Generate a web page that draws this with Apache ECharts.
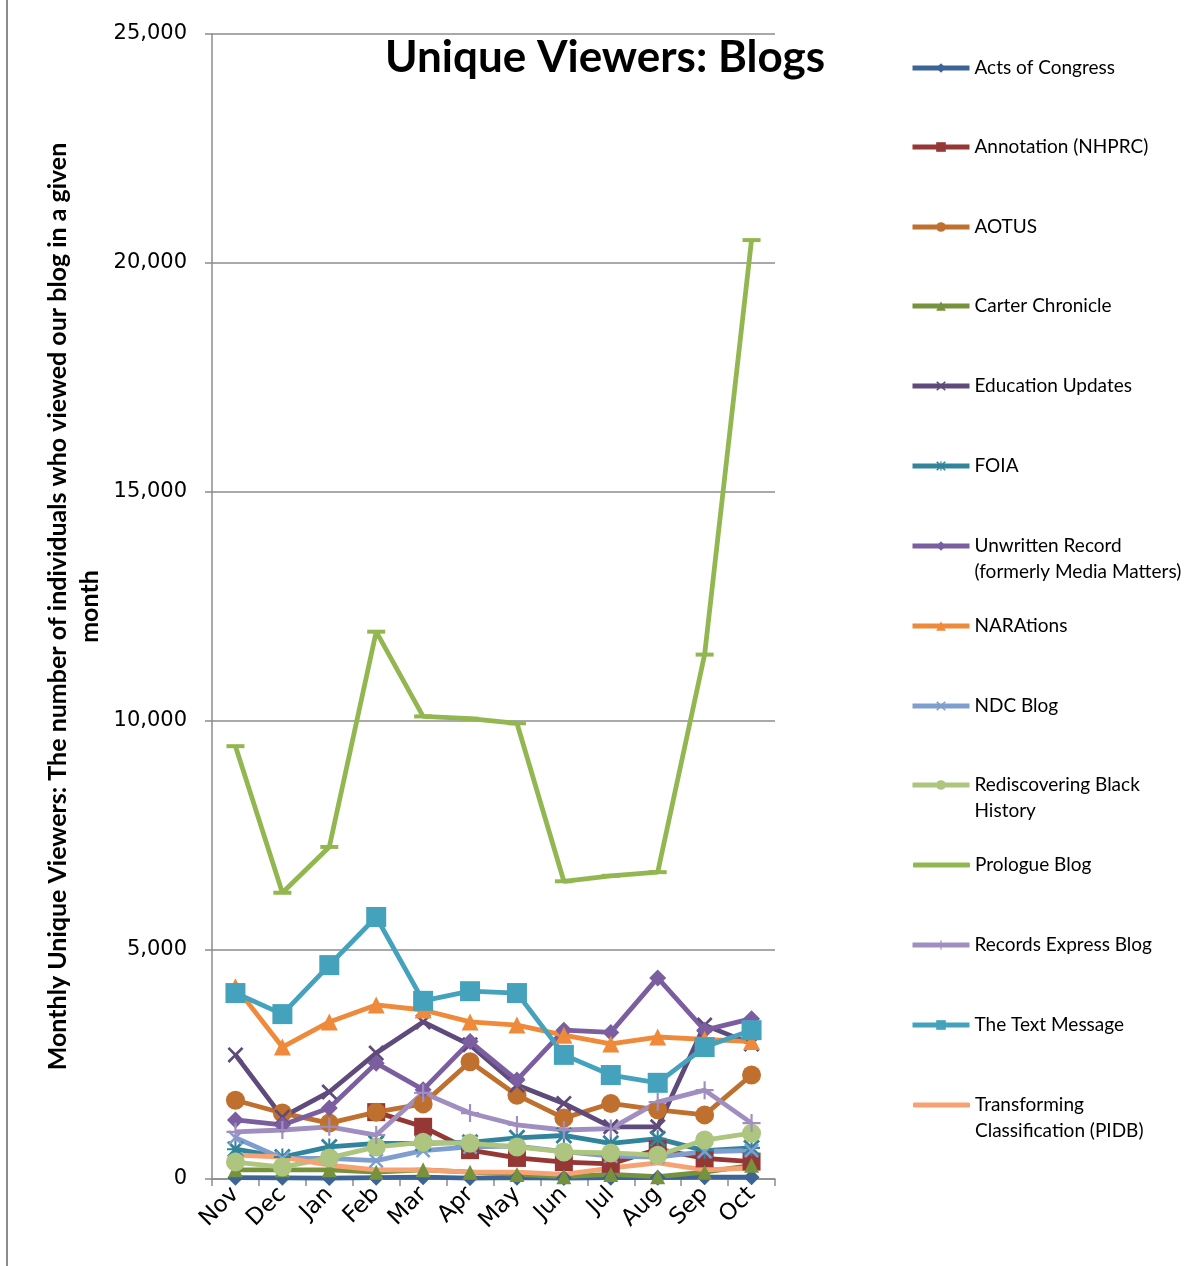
<!DOCTYPE html>
<html><head><meta charset="utf-8">
<script src="https://cdn.jsdelivr.net/npm/echarts@6/dist/echarts.min.js"></script>
<style>
html,body{margin:0;padding:0;background:#fff;}
#wrap{position:relative;width:1195px;height:1266px;}
#chart{position:absolute;left:0;top:0;width:1195px;height:1266px;}
#frame{position:absolute;left:6px;top:-2px;width:1200px;height:1270px;border-left:2px solid #8c8c8c;pointer-events:none;}
</style></head>
<body><div id="wrap"><div id="chart"></div><div id="frame"></div></div>
<script>
const months = ['Nov','Dec','Jan','Feb','Mar','Apr','May','Jun','Jul','Aug','Sep','Oct'];
const yTicks = [0,5000,10000,15000,20000,25000];

const actsOfCongress = [30,25,20,30,40,20,30,20,30,30,40,40];
const annotation = [null,null,null,1460,1140,630,460,370,330,650,450,380];
const aotus = [1720,1440,1220,1460,1640,2560,1830,1330,1650,1510,1400,2270];
const carterChronicle = [200,200,200,150,200,150,100,50,100,50,150,300];
const educationUpdates = [2710,1350,1900,2750,3430,2930,2050,1650,1140,1140,3360,2950];
const foia = [650,480,700,780,780,800,900,950,780,880,620,680];
const unwrittenRecord = [1290,1180,1550,2530,1950,3000,2160,3250,3200,4390,3250,3500];
const narations = [4200,2880,3430,3800,3690,3430,3360,3140,2950,3100,3050,3000];
const ndcBlog = [900,450,450,400,620,700,720,600,500,480,600,620];
const rediscovering = [370,260,460,700,800,780,700,590,570,520,850,1000];
const prologueBlog = [9450,6250,7250,11950,10100,10050,9950,6500,6620,6700,11450,20500];
const recordsExpress = [1030,1070,1140,960,1880,1440,1180,1070,1100,1680,1940,1220];
const textMessage = [4060,3600,4670,5720,3890,4100,4060,2710,2270,2100,2880,3250];
const transforming = [520,480,300,200,200,150,150,100,240,350,200,240];

const seriesNames = ['Acts of Congress','Annotation (NHPRC)','AOTUS','Carter Chronicle','Education Updates','FOIA','Unwritten Record\n(formerly Media Matters)','NARAtions','NDC Blog','Rediscovering Black\nHistory','Prologue Blog','Records Express Blog','The Text Message','Transforming\nClassification (PIDB)'];
const seriesData = [actsOfCongress,annotation,aotus,carterChronicle,educationUpdates,foia,unwrittenRecord,narations,ndcBlog,rediscovering,prologueBlog,recordsExpress,textMessage,transforming];
const colors = ['#3C6496','#953735','#C0702E','#76923C','#5F4A7C','#31849B','#7B5EA0','#EE8A3A','#7E9ECF','#ADC57E','#93B750','#A08EC0','#45A2BD','#F6A273'];

const X = 'path://M0,1.2 L1.2,0 L5,3.8 L8.8,0 L10,1.2 L6.2,5 L10,8.8 L8.8,10 L5,6.2 L1.2,10 L0,8.8 L3.8,5 Z';
const PLUS = 'path://M4.4,0 H5.6 V4.4 H10 V5.6 H5.6 V10 H4.4 V5.6 H0 V4.4 H4.4 Z';
const STAR = 'path://M0,1.2 L1.2,0 L5,3.8 L8.8,0 L10,1.2 L6.2,5 L10,8.8 L8.8,10 L5,6.2 L1.2,10 L0,8.8 L3.8,5 Z M4.4,0 H5.6 V10 H4.4 Z M0,4.4 H10 V5.6 H0 Z';
const DASH = 'path://M0,0 H10 V2 H0 Z';
const symbols = ['diamond','rect','circle','triangle',X,STAR,'diamond','triangle',X,'circle',DASH,PLUS,'rect','none'];
const sizes = [16,18,19,15,16,17,17,17,15,19,[18,4],18,20,0];
const plainLegend = [false,false,false,false,false,false,false,false,false,false,true,false,false,true];

const legendY = [68,147,227,306,386,466,546,626,706,785,865,945,1025,1105];

const chart = echarts.init(document.getElementById('chart'));
const fontMain = 'Lato, "Open Sans", sans-serif';

const legends = seriesNames.map((n,i)=>{
  const multi = n.indexOf('\n')>=0;
  const plain = plainLegend[i];
  return {
    data: plain ? [{name:n, icon:'roundRect'}] : [n],
    left: plain ? 908 : 905, top: legendY[i] - (multi ? 44 : 18), orient:'vertical',
    itemWidth:57, itemHeight: plain ? 5 : 12, itemGap:0, selectedMode:false,
    lineStyle:{width:5},
    formatter: nm => multi ? '\n' + nm : nm,
    textStyle:{fontFamily:fontMain, fontSize:19, color:'#000', lineHeight:26}
  };
});

const series = seriesNames.map((n,i)=>({
  name:n, type:'line', data:seriesData[i],
  symbol:symbols[i], symbolSize:sizes[i], showSymbol: symbols[i] !== 'none',
  connectNulls:false,
  lineStyle:{width:4.8, color:colors[i]},
  itemStyle:{color:colors[i]},
  emphasis:{disabled:true}, animation:false
}));

chart.setOption({
  backgroundColor:'#fff',
  animation:false,
  title:{text:'Unique Viewers: Blogs', left:380, top:31,
    textStyle:{fontFamily:fontMain, fontWeight:'bold', fontSize:44, color:'#000'}},
  legend:legends,
  grid:{left:212, top:34, width:563, height:1145, containLabel:false},
  xAxis:{type:'category', data:months, boundaryGap:true,
    axisLine:{lineStyle:{color:'#8c8c8c', width:1.5}},
    axisTick:{show:true, length:7, interval:0, lineStyle:{color:'#8c8c8c', width:1.5}},
    axisLabel:{rotate:45, interval:0, margin:12, fontFamily:'"DejaVu Sans", sans-serif', fontSize:23, color:'#000'}},
  yAxis:{type:'value', min:yTicks[0], max:yTicks[yTicks.length-1], interval:5000,
    name:'Monthly Unique Viewers: The number of individuals who viewed our blog in a given\nmonth',
    nameLocation:'middle', nameRotate:90, nameGap:106,
    nameTextStyle:{fontFamily:fontMain, fontWeight:'bold', fontSize:25, color:'#000', lineHeight:32},
    axisLine:{show:true, lineStyle:{color:'#8c8c8c', width:1.5}},
    axisTick:{show:true, length:7, inside:false, lineStyle:{color:'#8c8c8c', width:1.5}},
    splitLine:{lineStyle:{color:'#8c8c8c', width:1.5}},
    axisLabel:{margin:25, fontFamily:'"DejaVu Sans", sans-serif', fontSize:21, color:'#000',
      formatter:v=>v.toLocaleString('en-US')}},
  series:series
});
</script></body></html>
